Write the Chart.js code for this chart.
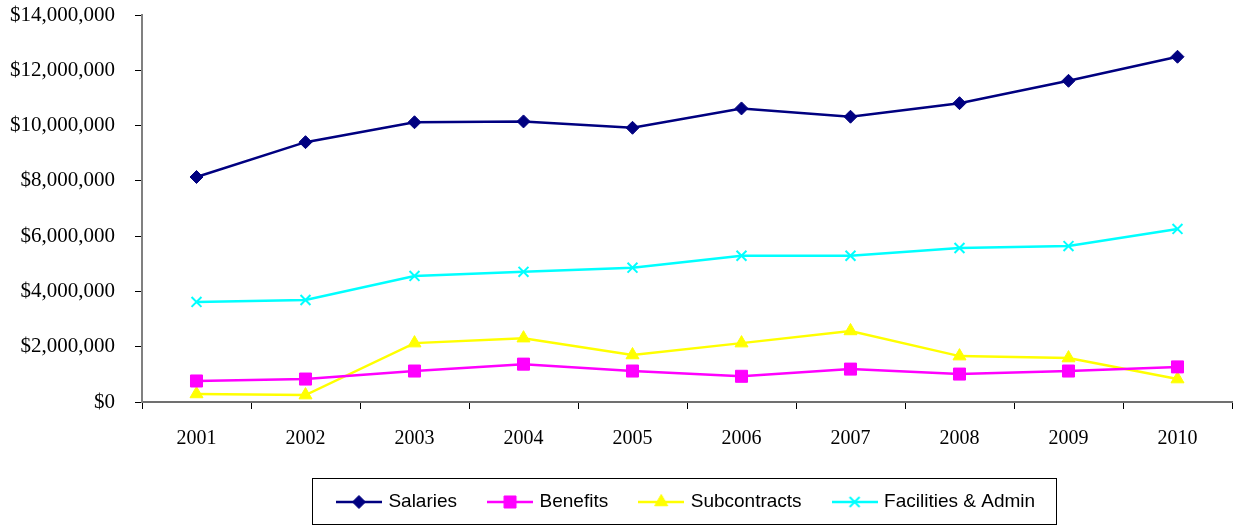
<!DOCTYPE html>
<html>
<head>
<meta charset="utf-8">
<script src="https://cdn.jsdelivr.net/npm/chart.js@4/dist/chart.umd.min.js"></script>
<style>
  html, body { margin: 0; padding: 0; background: #fff; }
  #wrap { width: 1236px; height: 525px; }
</style>
</head>
<body>
<div id="wrap"><canvas id="chart" width="1236" height="525"></canvas></div>
<script>
'use strict';

// values
var years = ['2001', '2002', '2003', '2004', '2005', '2006', '2007', '2008', '2009', '2010'];
var salaries = [8140000, 9400000, 10120000, 10150000, 9920000, 10620000, 10320000, 10810000, 11620000, 12490000];
var benefits = [760000, 830000, 1120000, 1370000, 1120000, 930000, 1190000, 1010000, 1120000, 1270000];
var subcontracts = [290000, 250000, 2130000, 2310000, 1700000, 2130000, 2570000, 1660000, 1590000, 830000];
var facilities = [3620000, 3690000, 4560000, 4710000, 4860000, 5290000, 5290000, 5570000, 5640000, 6260000];
var yTicks = [0, 2000000, 4000000, 6000000, 8000000, 10000000, 12000000, 14000000];

function money(v) {
    return '$' + Number(v).toLocaleString('en-US');
}

// legend swatch: short line with the marker in the middle
function swatch(color, style, radius, bw) {
    var c = document.createElement('canvas');
    c.width = 46;
    c.height = 18;
    var g = c.getContext('2d');
    g.strokeStyle = color;
    g.lineWidth = 2.5;
    g.beginPath();
    g.moveTo(0, 9);
    g.lineTo(46, 9);
    g.stroke();
    g.fillStyle = color;
    g.lineWidth = bw;
    Chart.helpers.drawPoint(g, { pointStyle: style, radius: radius, rotation: 0, borderWidth: bw }, 23, 9);
    return c;
}

function series(label, data, color, style, radius, bw) {
    return {
        label: label,
        data: data,
        borderColor: color,
        backgroundColor: color,
        borderWidth: 2.5,
        pointStyle: style,
        pointRadius: radius,
        pointHoverRadius: radius,
        pointBorderWidth: bw,
        pointBackgroundColor: color,
        pointBorderColor: color,
        tension: 0,
        fill: false,
        swatch: swatch(color, style, radius, bw)
    };
}

var legendFrame = {
    id: 'legendFrame',
    afterDraw: function (chart) {
        var boxes = chart.legend.legendHitBoxes;
        if (!boxes || !boxes.length) return;
        var left = Infinity, right = -Infinity;
        boxes.forEach(function (b) {
            left = Math.min(left, b.left);
            right = Math.max(right, b.left + b.width);
        });
        var mid = boxes[0].top + boxes[0].height / 2;
        var ctx = chart.ctx;
        ctx.save();
        ctx.strokeStyle = '#000';
        ctx.lineWidth = 1;
        ctx.strokeRect(Math.round(left - 27) + 0.5, Math.round(mid - 24) + 0.5, Math.round(right - left + 48), 46);
        ctx.restore();
    }
};

new Chart(document.getElementById('chart'), {
    type: 'line',
    data: {
        labels: years,
        datasets: [
            series('Salaries', salaries, '#000080', 'rectRot', 6.5, 1),
            series('Benefits', benefits, '#FF00FF', 'rect', 8.5, 1),
            series('Subcontracts', subcontracts, '#FFFF00', 'triangle', 7.5, 1),
            series('Facilities & Admin', facilities, '#00FFFF', 'crossRot', 7, 2)
        ]
    },
    options: {
        responsive: false,
        animation: false,
        layout: {
            autoPadding: false,
            padding: { top: 15, right: 4, bottom: 3.5, left: 0 }
        },
        plugins: {
            tooltip: { enabled: false },
            legend: {
                position: 'bottom',
                fullSize: false,
                labels: {
                    usePointStyle: true,
                    pointStyleWidth: 40,
                    padding: 33,
                    color: '#000',
                    font: { family: '"Liberation Sans", Arial, sans-serif', size: 19 },
                    generateLabels: function (chart) {
                        var items = Chart.defaults.plugins.legend.labels.generateLabels(chart);
                        items.forEach(function (it) {
                            it.pointStyle = chart.data.datasets[it.datasetIndex].swatch;
                            it.rotation = 0;
                        });
                        return items;
                    }
                }
            }
        },
        scales: {
            x: {
                offset: true,
                grid: {
                    offset: true,
                    drawOnChartArea: false,
                    tickLength: 7,
                    tickWidth: 1,
                    tickColor: '#000'
                },
                border: { display: true, color: '#707070', width: 2 },
                ticks: {
                    padding: 18,
                    color: '#000',
                    font: { family: '"Liberation Serif", "Times New Roman", serif', size: 20 }
                },
                afterFit: function (s) {
                    s.height = 57.5;
                    s.paddingLeft = 0;
                    s.paddingRight = 0;
                }
            },
            y: {
                min: 0,
                max: 14000000,
                afterBuildTicks: function (s) {
                    s.ticks = yTicks.map(function (v) { return { value: v }; });
                },
                grid: {
                    drawOnChartArea: false,
                    tickLength: 7,
                    tickWidth: 1,
                    tickColor: '#000'
                },
                border: { display: true, color: '#808080', width: 2 },
                ticks: {
                    padding: 20,
                    color: '#000',
                    font: { family: '"Liberation Serif", "Times New Roman", serif', size: 21 },
                    callback: function (v) { return money(v); }
                },
                afterFit: function (s) {
                    s.width = 142;
                    s.paddingTop = 0;
                    s.paddingBottom = 0;
                }
            }
        }
    },
    plugins: [legendFrame]
});
</script>
</body>
</html>
